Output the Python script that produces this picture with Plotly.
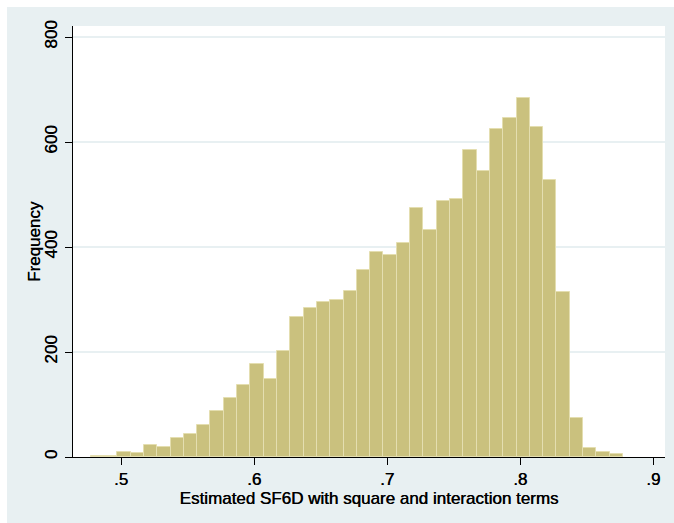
import plotly.graph_objects as go

# Histogram data (40 bins)
bin_start = 0.4772
bin_width = 0.01
counts = [2, 2, 10, 7, 22, 20, 36, 43, 61, 88,
          112, 137, 177, 149, 201, 266, 283, 295, 299, 317,
          357, 391, 384, 407, 475, 432, 488, 492, 584, 544,
          624, 645, 684, 629, 528, 315, 75, 18, 9, 6]
centers = [bin_start + bin_width * (i + 0.5) for i in range(len(counts))]

x_ticks = [0.5, 0.6, 0.7, 0.8, 0.9]
x_tick_labels = [".5", ".6", ".7", ".8", ".9"]
y_ticks = [0, 200, 400, 600, 800]
y_tick_labels = ["0", "200", "400", "600", "800"]

OUTER = "#E8F0F2"
FONT = "Liberation Sans, Arial, sans-serif"
SHADOW = "0.4px 0 0 #000"

W, H = 674, 523
ml, mr, mt, mb = 73, 9, 26, 66
pw, ph = W - ml - mr, H - mt - mb

fig = go.Figure()
fig.add_trace(go.Bar(
    x=centers, y=counts, width=[bin_width] * len(counts),
    marker=dict(color="#CAC17E", line=dict(color="#E4DEB0", width=1)),
    hoverinfo="x+y",
))

def px2paper_x(p):
    return (p - ml) / pw

def px2paper_y(p):
    return (H - mb - p) / ph

fig.update_layout(
    width=W, height=H,
    margin=dict(l=ml, r=mr, t=mt, b=mb),
    paper_bgcolor=OUTER,
    plot_bgcolor="white",
    showlegend=False,
    bargap=0,
    font=dict(family=FONT, size=17, color="black", shadow=SHADOW),
    shapes=[
        dict(type="rect", xref="paper", yref="paper",
             x0=px2paper_x(0), x1=px2paper_x(W), y0=px2paper_y(7), y1=px2paper_y(0),
             fillcolor="white", line=dict(width=0), layer="below"),
        dict(type="rect", xref="paper", yref="paper",
             x0=px2paper_x(0), x1=px2paper_x(7), y0=px2paper_y(H), y1=px2paper_y(0),
             fillcolor="white", line=dict(width=0), layer="below"),
    ],
    annotations=[
        dict(text="Frequency", xref="paper", yref="paper",
             x=px2paper_x(34), y=px2paper_y(242), textangle=-90,
             showarrow=False, xanchor="center", yanchor="middle",
             font=dict(family=FONT, size=17, color="black", shadow=SHADOW)),
    ],
    xaxis=dict(
        range=[0.4639, 0.9088],
        tickmode="array", tickvals=x_ticks, ticktext=x_tick_labels,
        ticks="outside", ticklen=7, tickwidth=1, tickcolor="black",
        showline=True, linecolor="black", linewidth=1,
        showgrid=False, zeroline=False,
        tickfont=dict(size=17, color="black", shadow=SHADOW),
        title=dict(text="Estimated SF6D with square and interaction terms",
                   font=dict(size=17, color="black", shadow=SHADOW), standoff=0),
    ),
    yaxis=dict(
        range=[0, 821],
        tickmode="array", tickvals=y_ticks, ticktext=y_tick_labels,
        tickangle=-90, ticklabelstandoff=1,
        ticks="outside", ticklen=7, tickwidth=1, tickcolor="black",
        showline=True, linecolor="black", linewidth=1,
        showgrid=True, gridcolor=OUTER, gridwidth=1.5,
        zeroline=False,
        tickfont=dict(size=17, color="black", shadow=SHADOW),
    ),
)

fig.write_html("out.html")
